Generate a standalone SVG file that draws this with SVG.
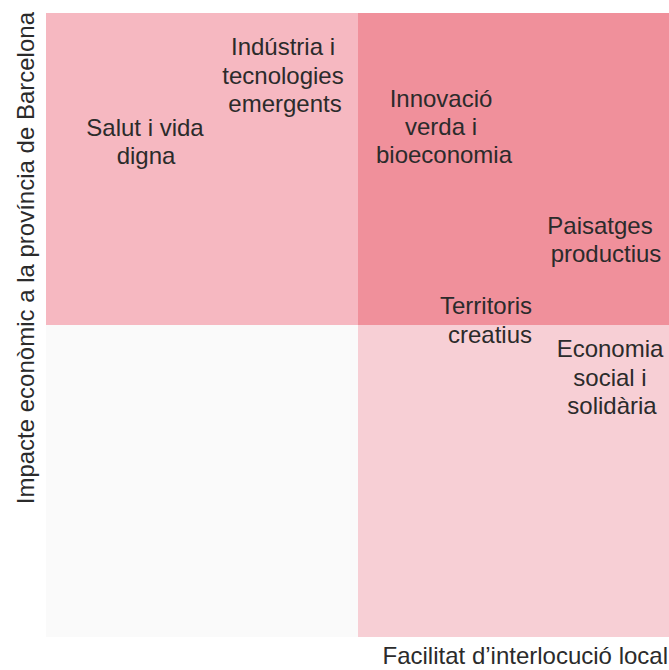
<svg xmlns="http://www.w3.org/2000/svg" width="669" height="670" viewBox="0 0 669 670">
<style>
text{font-family:"Liberation Sans",Arial,sans-serif;font-size:24px;fill:#2b2b2b;text-anchor:middle}
.ax{text-anchor:end}
</style>
<rect width="669" height="670" fill="#ffffff"/>
<g id="quadrants">
<rect x="46" y="13" width="312" height="312" fill="#f6b8c1"/>
<rect x="358" y="13" width="311" height="312" fill="#f0909b"/>
<rect x="46" y="325" width="312" height="312" fill="#fafafa"/>
<rect x="358" y="325" width="311" height="312" fill="#f7cfd5"/>
</g>
<g id="connectors"></g>
<g id="n1"><text x="145" y="136">Salut i vida</text><text x="146" y="164">digna</text></g>
<g id="n2"><text x="283" y="55">Indústria i</text><text x="283" y="84">tecnologies</text><text x="285" y="112">emergents</text></g>
<g id="n3"><text x="441" y="107">Innovació</text><text x="441" y="135">verda i</text><text x="444" y="163">bioeconomia</text></g>
<g id="n4"><text x="600" y="234">Paisatges</text><text x="606" y="262">productius</text></g>
<g id="n5"><text x="486" y="314">Territoris</text><text x="490" y="343">creatius</text></g>
<g id="n6"><text x="610" y="357">Economia</text><text x="610" y="386">social i</text><text x="612" y="414">solidària</text></g>
<text class="ax" x="668" y="664">Facilitat d’interlocució local</text>
<text class="ax" transform="translate(34,12) rotate(-90)">Impacte econòmic a la província de Barcelona</text>
</svg>
